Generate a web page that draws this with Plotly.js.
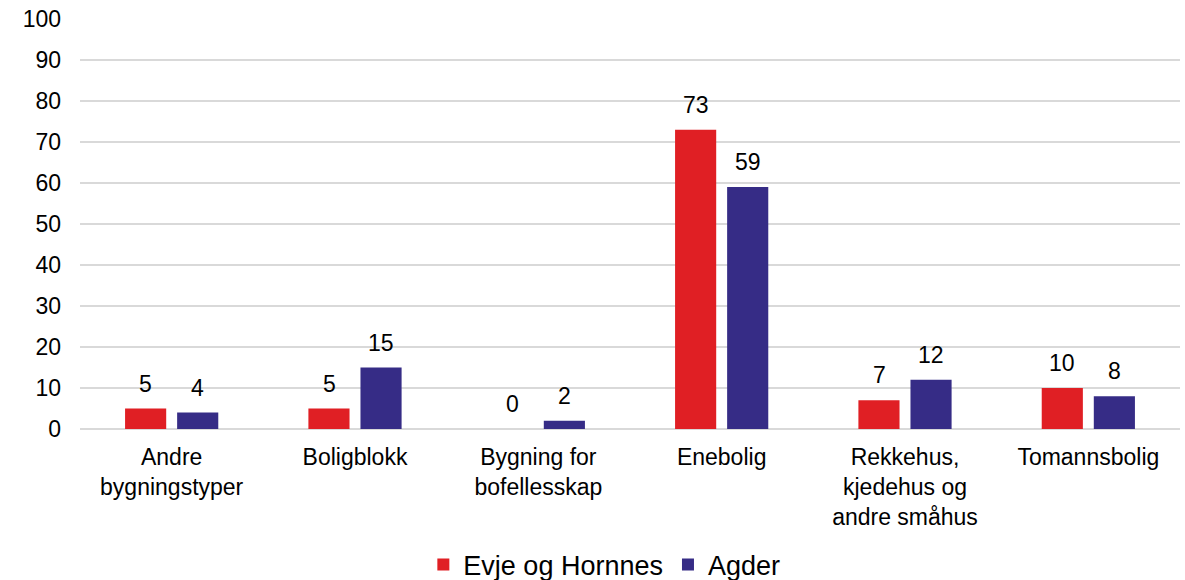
<!DOCTYPE html>
<html>
<head>
<meta charset="utf-8">
<script src="https://cdn.plot.ly/plotly-3.0.1.min.js"></script>
<style>html,body{margin:0;padding:0;background:#fff}#chart{width:1185px;height:580px}</style>
</head>
<body>
<div id="chart"></div>
<script>
const categories = ["Andre<br>bygningstyper", "Boligblokk", "Bygning for<br>bofellesskap", "Enebolig", "Rekkehus,<br>kjedehus og<br>andre småhus", "Tomannsbolig"];
const seriesNames = ["Evje og Hornnes", "Agder"];
const evjeValues = [5, 5, 0, 73, 7, 10];
const agderValues = [4, 15, 2, 59, 12, 8];
const yTicks = [0, 10, 20, 30, 40, 50, 60, 70, 80, 90, 100];

const colors = ["#E01F24", "#362C86"];
const FONT = "Liberation Sans, Arial, sans-serif";

const traces = [evjeValues, agderValues].map((vals, i) => ({
  type: "bar",
  name: seriesNames[i],
  x: categories,
  y: vals,
  marker: {color: colors[i]},
  hoverinfo: "skip"
}));

const annotations = [];
[evjeValues, agderValues].forEach((vals, i) => {
  vals.forEach((v, j) => {
    annotations.push({
      x: categories[j], y: v, xref: "x", yref: "y",
      text: String(v), showarrow: false,
      xanchor: "center", yanchor: "bottom",
      xshift: i === 0 ? -26 : 26, yshift: 10,
      font: {family: FONT, size: 23, color: "#000"}
    });
  });
});

const layout = {
  width: 1185, height: 580,
  margin: {l: 80, r: 5, t: 19, b: 151},
  paper_bgcolor: "#fff", plot_bgcolor: "#fff",
  barmode: "group", bargap: 0.432, bargroupgap: 0.21,
  font: {family: FONT, size: 23, color: "#000"},
  xaxis: {
    type: "category",
    showgrid: false, showline: false, zeroline: false,
    ticks: "", ticklabelstandoff: 12,
    tickfont: {family: FONT, size: 23, color: "#000"}
  },
  yaxis: {
    range: [0, 100], tickvals: yTicks, ticktext: yTicks.map(String),
    showgrid: true, gridcolor: "#d9d9d9", gridwidth: 1.5,
    zeroline: true, zerolinecolor: "#d9d9d9", zerolinewidth: 1.5,
    showline: false, ticks: "", ticklabelstandoff: 18,
    tickfont: {family: FONT, size: 23, color: "#000"}
  },
  showlegend: true,
  legend: {
    orientation: "h", xref: "container", x: 0.51, xanchor: "center",
    yref: "container", y: 0.026, yanchor: "middle",
    font: {family: FONT, size: 27, color: "#000"},
    itemwidth: 30, traceorder: "normal"
  },
  annotations: annotations
};

Plotly.newPlot("chart", traces, layout, {displayModeBar: false, staticPlot: true});
</script>
</body>
</html>
